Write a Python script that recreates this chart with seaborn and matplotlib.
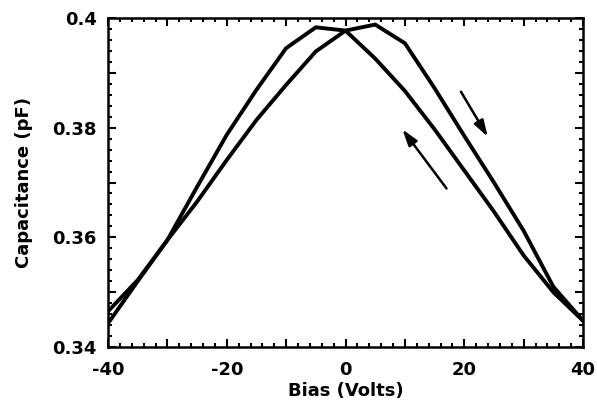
import numpy as np
import pandas as pd
import matplotlib
matplotlib.use("Agg")
import matplotlib.pyplot as plt
import seaborn as sns
from matplotlib.ticker import MultipleLocator, FuncFormatter

bias = [-40, -35, -30, -25, -20, -15, -10, -5, 0, 5, 10, 15, 20, 25, 30, 35, 40]
cap_forward = [0.3465, 0.3522, 0.3595, 0.3665, 0.3741, 0.3814, 0.3878, 0.3939, 0.3977,
               0.3988, 0.3954, 0.3872, 0.3785, 0.3700, 0.3612, 0.3510, 0.3448]
cap_reverse = [0.3443, 0.3520, 0.3595, 0.3692, 0.3787, 0.3869, 0.3945, 0.3983, 0.3977,
               0.3926, 0.3867, 0.3797, 0.3722, 0.3647, 0.3567, 0.3500, 0.3448]
x_labels = [-40, -20, 0, 20, 40]
y_labels = [0.34, 0.36, 0.38, 0.4]

df = pd.concat([
    pd.DataFrame({"bias": bias, "cap": cap_forward, "sweep": "forward"}),
    pd.DataFrame({"bias": bias[::-1], "cap": cap_reverse[::-1], "sweep": "reverse"}),
])

sns.set_style("white")
plt.rcParams["font.family"] = ["DejaVu Sans"]
plt.rcParams["font.weight"] = "bold"
for key in ["text.color", "axes.labelcolor", "xtick.color", "ytick.color", "axes.edgecolor"]:
    plt.rcParams[key] = "black"

fig = plt.figure(figsize=(5.97, 4.09), dpi=100)
ax = fig.add_axes([108/597, 1-347/409, (583-108)/597, (347-18)/409])

sns.lineplot(data=df, x="bias", y="cap", hue="sweep", palette=["black", "black"],
             sort=False, estimator=None, linewidth=2.8, legend=False, ax=ax)

ax.set_xlim(-40, 40)
ax.set_ylim(0.34, 0.4)
ax.xaxis.set_major_locator(MultipleLocator(10))
ax.xaxis.set_minor_locator(MultipleLocator(2))
ax.yaxis.set_major_locator(MultipleLocator(0.01))
ax.yaxis.set_minor_locator(MultipleLocator(0.002))

def xfmt(v, pos):
    r = int(round(v))
    return str(r) if r in x_labels else ""

def yfmt(v, pos):
    for lab in y_labels:
        if abs(v - lab) < 1e-6:
            return ("%g" % lab)
    return ""

ax.xaxis.set_major_formatter(FuncFormatter(xfmt))
ax.yaxis.set_major_formatter(FuncFormatter(yfmt))
ax.tick_params(which="both", direction="in", top=True, right=True, bottom=True, left=True,
               labelsize=13, width=1.5, color="black", labelcolor="black")
ax.tick_params(which="major", length=6)
ax.tick_params(axis="x", which="major", pad=10)
ax.tick_params(axis="y", which="major", pad=8)
ax.tick_params(which="minor", length=3)
for lab in ax.get_xticklabels() + ax.get_yticklabels():
    lab.set_fontweight("bold")
for s in ax.spines.values():
    s.set_linewidth(1.8)
    s.set_color("black")

ax.set_xlabel("Bias (Volts)", fontsize=13, fontweight="bold", labelpad=2, color="black")
ax.set_ylabel("Capacitance (pF)", fontsize=13, fontweight="bold", labelpad=14, color="black")

arrowprops = dict(arrowstyle="-|>,head_length=0.7,head_width=0.22", color="black",
                  lw=1.8, mutation_scale=14)
ax.annotate("", xy=(24.2, 0.3779), xytext=(19.2, 0.3870), arrowprops=arrowprops)
ax.annotate("", xy=(9.3, 0.3801), xytext=(17.3, 0.3685), arrowprops=arrowprops)

fig.savefig("out.png", dpi=100)
